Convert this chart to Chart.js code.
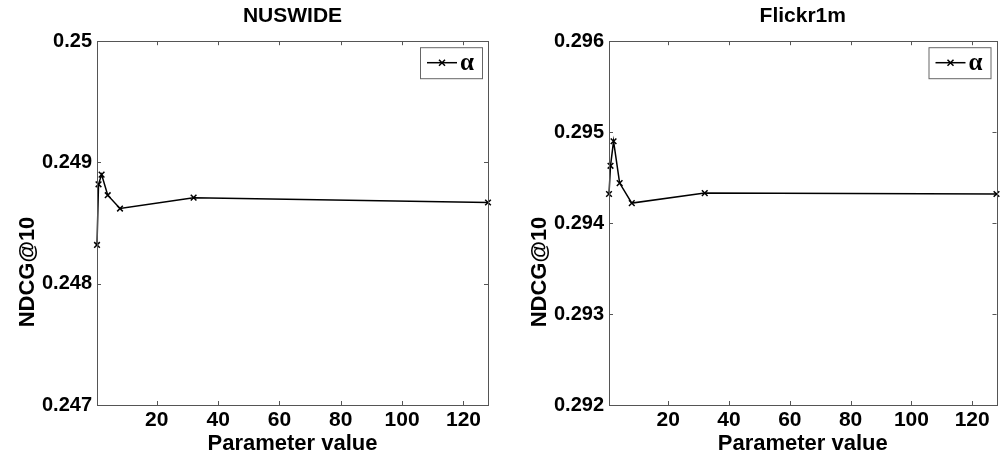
<!DOCTYPE html>
<html>
<head>
<meta charset="utf-8">
<script src="https://cdn.jsdelivr.net/npm/chart.js@4/dist/chart.umd.min.js"></script>
<style>
  html, body { margin: 0; padding: 0; background: #fff; }
  #wrap { position: relative; width: 1002px; height: 459px; overflow: hidden; }
  .box { position: absolute; top: 0; height: 459px; }
</style>
</head>
<body>
<div id="wrap">
  <div class="box" style="left:0;width:500px"><canvas id="c1"></canvas></div>
  <div class="box" style="left:500px;width:502px"><canvas id="c2"></canvas></div>
</div>
<script>
// ---- data ----
const paramValues = [0.5, 1, 2, 4, 8, 32, 128];
const nuswideNdcg = [0.24832, 0.24882, 0.24890, 0.24873, 0.24862, 0.24871, 0.24867];
const flickrNdcg  = [0.29432, 0.29463, 0.29490, 0.29444, 0.29422, 0.29433, 0.29432];
const xTickValues = [20, 40, 60, 80, 100, 120];
const nuswideYTicks = [0.247, 0.248, 0.249, 0.25];
const flickrYTicks  = [0.292, 0.293, 0.294, 0.295, 0.296];
const seriesLabel = 'α';
const titles = ['NUSWIDE', 'Flickr1m'];
const xTitle = 'Parameter value';
const yTitle = 'NDCG@10';

const FONT = "'Liberation Sans', Arial, sans-serif";
const AXIS_COLOR = '#555';

const frameAndLegend = {
  id: 'frameAndLegend',
  afterDraw(chart, args, opts) {
    const ctx = chart.ctx;
    const a = chart.chartArea;
    const xs = chart.scales.x, ys = chart.scales.y;
    ctx.save();
    ctx.strokeStyle = AXIS_COLOR;
    ctx.lineWidth = 1;
    ctx.strokeRect(Math.round(a.left) + 0.5, Math.round(a.top) + 0.5,
                   Math.round(a.right - a.left), Math.round(a.bottom - a.top));
    const tl = 4;
    ctx.beginPath();
    xs.ticks.forEach(t => {
      const px = Math.round(xs.getPixelForValue(t.value)) + 0.5;
      ctx.moveTo(px, a.bottom); ctx.lineTo(px, a.bottom - tl);
      ctx.moveTo(px, a.top); ctx.lineTo(px, a.top + tl);
    });
    ys.ticks.forEach(t => {
      const py = Math.round(ys.getPixelForValue(t.value)) + 0.5;
      ctx.moveTo(a.left, py); ctx.lineTo(a.left + tl, py);
      ctx.moveTo(a.right, py); ctx.lineTo(a.right - tl, py);
    });
    ctx.stroke();
    // y-axis title (MATLAB places it a bit below the middle)
    ctx.fillStyle = '#000';
    ctx.font = "bold 22px " + FONT;
    ctx.textAlign = 'center';
    ctx.textBaseline = 'middle';
    ctx.save();
    ctx.translate(opts.yTitleX, opts.yTitleY);
    ctx.rotate(-Math.PI / 2);
    ctx.fillText(yTitle, 0, 0);
    ctx.restore();
    // legend box
    const ds = chart.data.datasets[0];
    const w = 62, h = 31;
    const lx = a.right - w - 6, ly = a.top + 6;
    ctx.fillStyle = '#fff';
    ctx.fillRect(lx, ly, w, h);
    ctx.strokeStyle = '#666';
    ctx.strokeRect(lx + 0.5, ly + 0.5, w, h);
    const my = ly + h / 2;
    ctx.strokeStyle = '#000';
    ctx.lineWidth = 1.5;
    ctx.beginPath();
    ctx.moveTo(lx + 7, my); ctx.lineTo(lx + 37, my);
    ctx.stroke();
    const cx = lx + 22, r = 3;
    ctx.beginPath();
    ctx.moveTo(cx - r, my - r); ctx.lineTo(cx + r, my + r);
    ctx.moveTo(cx - r, my + r); ctx.lineTo(cx + r, my - r);
    ctx.stroke();
    ctx.fillStyle = '#000';
    ctx.font = "bold 25px 'Liberation Serif', 'Times New Roman', serif";
    ctx.textBaseline = 'middle';
    ctx.textAlign = 'left';
    ctx.fillText(ds.label, lx + 40, my + 1);
    ctx.restore();
  }
};

function makeChart(id, title, values, yTicks, yAxisWidth, yTitleX, rightPad) {
  const pts = paramValues.map((x, i) => ({ x: x, y: values[i] }));
  return new Chart(document.getElementById(id), {
    type: 'line',
    data: {
      datasets: [{
        label: seriesLabel,
        data: pts,
        borderColor: '#000',
        backgroundColor: '#000',
        borderWidth: 1.5,
        pointStyle: 'crossRot',
        pointRadius: 4,
        pointBorderWidth: 1.5,
        pointBorderColor: '#000',
        tension: 0,
        clip: false
      }]
    },
    options: {
      responsive: true,
      maintainAspectRatio: false,
      animation: false,
      events: [],
      layout: { padding: { left: 0, right: rightPad, top: 0, bottom: 0 } },
      plugins: {
        legend: { display: false },
        tooltip: { enabled: false },
        frameAndLegend: { yTitleX: yTitleX, yTitleY: 272 },
        title: {
          display: true,
          text: title,
          fullSize: false,
          color: '#000',
          font: { family: FONT, size: 21, weight: 'bold', lineHeight: 1.2 },
          padding: { top: 4, bottom: 12 }
        }
      },
      scales: {
        x: {
          type: 'linear',
          min: paramValues[0],
          max: paramValues[paramValues.length - 1],
          afterBuildTicks: s => { s.ticks = xTickValues.map(v => ({ value: v })); },
          afterFit: s => { s.height = 54; },
          grid: { display: false, drawTicks: false },
          border: { display: false },
          ticks: {
            color: '#000', padding: 3, maxRotation: 0, autoSkip: false,
            font: { family: FONT, size: 21, weight: 'bold' }
          },
          title: {
            display: true, text: xTitle, color: '#000',
            font: { family: FONT, size: 22, weight: 'bold', lineHeight: 1.1 },
            padding: { top: 0, bottom: 3 }
          }
        },
        y: {
          type: 'linear',
          min: yTicks[0],
          max: yTicks[yTicks.length - 1],
          afterBuildTicks: s => { s.ticks = yTicks.map(v => ({ value: v })); },
          afterFit: s => { s.width = yAxisWidth; },
          grid: { display: false, drawTicks: false },
          border: { display: false },
          ticks: {
            color: '#000', padding: 5, autoSkip: false,
            font: { family: FONT, size: 20, weight: 'bold' },
            callback: v => String(Number(v.toFixed(3)))
          },
          title: { display: false }
        }
      }
    },
    plugins: [frameAndLegend]
  });
}

makeChart('c1', titles[0], nuswideNdcg, nuswideYTicks, 97, 28, 12);
makeChart('c2', titles[1], flickrNdcg, flickrYTicks, 109, 40, 3);
</script>
</body>
</html>
